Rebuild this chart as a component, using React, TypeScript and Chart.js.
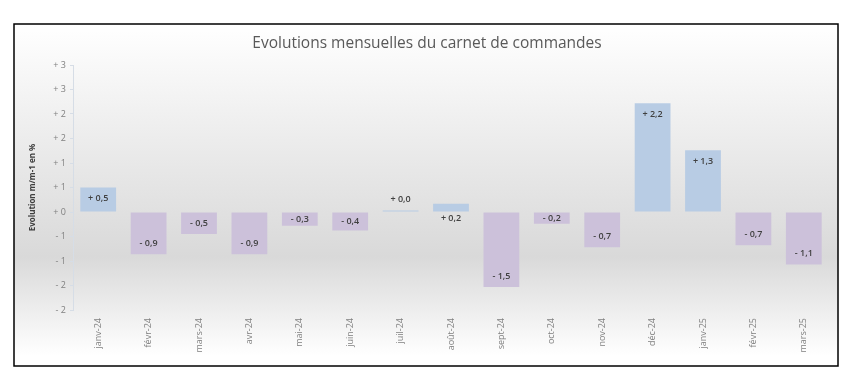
import React, { useEffect, useRef } from "react";
import { Chart, registerables } from "chart.js";

Chart.register(...registerables);

const TITLE = "Evolutions mensuelles du carnet de commandes";
const Y_TITLE = "Evolution m/m-1 en %";
const categories = [
  "janv-24", "févr-24", "mars-24", "avr-24", "mai-24", "juin-24", "juil-24", "août-24",
  "sept-24", "oct-24", "nov-24", "déc-24", "janv-25", "févr-25", "mars-25",
];
const values = [0.5, -0.86, -0.45, -0.86, -0.28, -0.38, 0.03, 0.17, -1.53, -0.24, -0.72, 2.22, 1.26, -0.68, -1.07];
const Y_MIN = -2;
const Y_MAX = 3;
const Y_STEP = 0.5;

const POS_COLOR = "#b8cce4";
const NEG_COLOR = "#ccc1da";

const fmtTick = (v: number) => (v >= 0 ? "+ " + Math.round(v) : "- " + Math.round(Math.abs(v)));
const fmtLabel = (v: number) => (v >= 0 ? "+ " : "- ") + Math.abs(v).toFixed(1).replace(".", ",");

const framePlugin = {
  id: "frame",
  beforeDraw(chart: any) {
    const { ctx } = chart;
    const x0 = 14, y0 = 24, x1 = 838, y1 = 366;
    ctx.save();
    const g = ctx.createLinearGradient(0, y0, 0, y1);
    g.addColorStop(0, "#ffffff");
    g.addColorStop(0.68, "#d9d9d9");
    g.addColorStop(0.97, "#ffffff");
    g.addColorStop(1, "#ffffff");
    ctx.fillStyle = g;
    ctx.fillRect(x0, y0, x1 - x0, y1 - y0);
    ctx.strokeStyle = "#000000";
    ctx.lineWidth = 1.5;
    ctx.strokeRect(x0, y0, x1 - x0, y1 - y0);
    ctx.fillStyle = "#595959";
    ctx.font = "15.5px 'Open Sans'";
    ctx.textAlign = "center";
    ctx.textBaseline = "middle";
    ctx.fillText(TITLE, 427, 44);
    ctx.restore();
  },
};

const labelPlugin = {
  id: "barLabels",
  afterDatasetsDraw(chart: any) {
    const { ctx } = chart;
    const meta = chart.getDatasetMeta(0);
    const data = chart.data.datasets[0].data as number[];
    ctx.save();
    ctx.fillStyle = "#404040";
    ctx.font = "600 9px 'Open Sans'";
    ctx.textAlign = "center";
    ctx.textBaseline = "middle";
    meta.data.forEach((bar: any, i: number) => {
      const v = data[i];
      const end = bar.y;
      const base = bar.base;
      const h = Math.abs(base - end);
      const dir = v >= 0 ? 1 : -1;
      let y: number;
      if (Math.abs(v) < 0.05) y = end - 11;
      else if (h < 10) y = base + dir * 7;
      else if (h < 24) y = (end + base) / 2;
      else y = end + dir * 11;
      ctx.fillText(fmtLabel(v), bar.x, y);
    });
    ctx.restore();
  },
};

export default function App() {
  const ref = useRef<HTMLCanvasElement>(null);
  useEffect(() => {
    if (!ref.current) return;
    const chart = new Chart(ref.current, {
      type: "bar",
      data: {
        labels: categories,
        datasets: [
          {
            data: values,
            backgroundColor: values.map((v) => (v >= 0 ? POS_COLOR : NEG_COLOR)),
            barPercentage: 0.71,
            categoryPercentage: 1,
          },
        ],
      },
      options: {
        animation: false,
        responsive: false,
        maintainAspectRatio: false,
        layout: { padding: { left: 14, right: 35, top: 65, bottom: 16 } },
        plugins: { legend: { display: false }, title: { display: false }, tooltip: { enabled: false } },
        scales: {
          x: {
            grid: { display: false, drawTicks: true, tickLength: 8 },
            border: { display: false },
            ticks: {
              autoSkip: false,
              minRotation: 90,
              maxRotation: 90,
              padding: 0,
              color: "#808080",
              font: { family: "'Open Sans'", size: 9 },
            },
            afterFit(scale: any) {
              scale.height = 56;
            },
          },
          y: {
            min: Y_MIN,
            max: Y_MAX,
            grid: { drawOnChartArea: false, tickLength: 3, color: "#d6dde6" },
            border: { display: true, color: "#d6dde6" },
            ticks: {
              stepSize: Y_STEP,
              padding: 4,
              color: "#808080",
              font: { family: "'Open Sans'", size: 9 },
              callback: (v: any) => fmtTick(Number(v)),
            },
            title: {
              display: true,
              text: Y_TITLE,
              color: "#404040",
              font: { family: "'Open Sans'", size: 8, weight: "bold" },
              padding: { top: 14, bottom: 0 },
            },
            afterFit(scale: any) {
              scale.width = 59;
            },
          },
        },
      },
      plugins: [framePlugin, labelPlugin],
    });
    return () => chart.destroy();
  }, []);
  return (
    <div style={{ position: "absolute", left: 0, top: 0, width: 864, height: 382, background: "#ffffff" }}>
      <canvas ref={ref} width={864} height={382} style={{ width: 864, height: 382 }} />
    </div>
  );
}
